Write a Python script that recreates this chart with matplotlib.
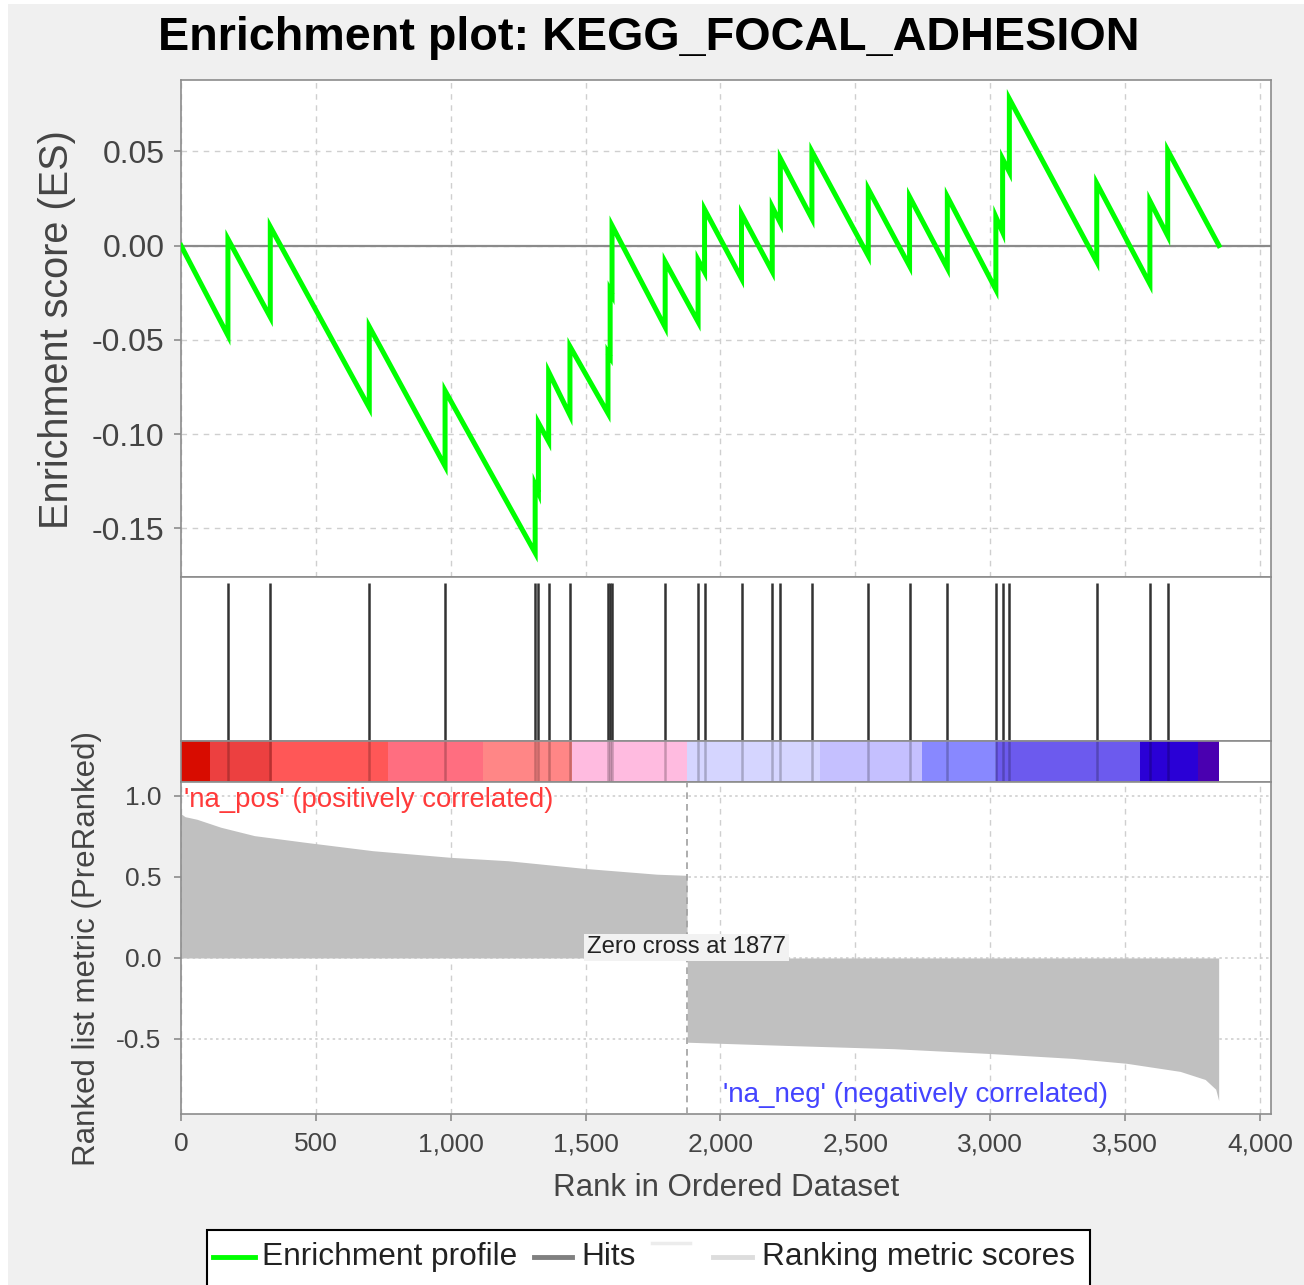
import matplotlib
matplotlib.use('Agg')
import matplotlib.pyplot as plt
from matplotlib.ticker import FuncFormatter
from matplotlib.patches import Rectangle
from matplotlib.lines import Line2D

plt.rcParams['font.family'] = ['Liberation Sans', 'DejaVu Sans']

# ---------------- data ----------------
TITLE = "Enrichment plot: KEGG_FOCAL_ADHESION"
N_GENES = 3848
ZERO_CROSS = 1877

hit_ranks = [174, 331, 698, 979, 1313, 1325, 1363, 1442, 1583, 1591, 1598,
             1795, 1917, 1941, 2078, 2192, 2222, 2339, 2548, 2701, 2841,
             3021, 3046, 3071, 3395, 3592, 3658]
es_before = [-0.0477, -0.038, -0.086, -0.117, -0.163, -0.131, -0.104, -0.090,
             -0.089, -0.059, -0.026, -0.0433, -0.0405, -0.0140, -0.0175,
             -0.0138, 0.012, 0.0143, -0.0055, -0.0109, -0.012, -0.0234,
             0.0071, 0.039, -0.0086, -0.0204, 0.0052]
es_after = [0.0035, 0.010, -0.043, -0.077, -0.127, -0.094, -0.067, -0.0535,
            -0.057, -0.024, 0.0106, -0.0086, -0.0076, 0.0192, 0.0168,
            0.0205, 0.0462, 0.0499, 0.030, 0.0259, 0.026, 0.0152,
            0.046, 0.0778, 0.033, 0.0237, 0.0505]

metric_pos_rank = [0, 15, 59, 147, 272, 460, 711, 1000, 1213, 1494, 1764, 1876]
metric_pos_val = [0.89, 0.872, 0.856, 0.807, 0.755, 0.714, 0.662, 0.621, 0.60,
                  0.553, 0.517, 0.51]
metric_neg_rank = [1877, 2247, 2644, 3002, 3307, 3505, 3704, 3797, 3836, 3847]
metric_neg_val = [-0.52, -0.54, -0.56, -0.59, -0.62, -0.65, -0.70, -0.75,
                  -0.81, -0.88]

bar_edges = [0, 108, 336, 766, 1121, 1449, 1875, 2369, 2746, 3021, 3556,
             3772, 3848]
bar_colors = ['#D80C00', '#EC4040', '#FF5757', '#FF6E80', '#FF8686',
              '#FFBBE0', '#D5D5FF', '#C5C0FF', '#8888FF', '#6C5AEE',
              '#2A00D6', '#4A00B0']

es_ticks = [0.05, 0.00, -0.05, -0.10, -0.15]
metric_ticks = [1.0, 0.5, 0.0, -0.5]
x_ticks = [0, 500, 1000, 1500, 2000, 2500, 3000, 3500, 4000]

# ---------------- layout ----------------
W, H = 1304, 1285
fig = plt.figure(figsize=(W / 100, H / 100), dpi=100, facecolor='#F0F0F0')


def rect(l, t, r, b):
    return [l / W, 1 - b / H, (r - l) / W, (b - t) / H]


XMAX = 4041
SPINE = '#8C8C8C'
GRID = '#CFCFCF'
TXT = '#444444'

# white strip at the left / top edge of the screenshot
fig.patches.append(Rectangle((0, 0), 8 / W, 1, transform=fig.transFigure,
                             facecolor='white', edgecolor='none', zorder=-5))
fig.patches.append(Rectangle((0, 1 - 4 / H), 1, 4 / H, transform=fig.transFigure,
                             facecolor='white', edgecolor='none', zorder=-5))

ax_es = fig.add_axes(rect(181, 80, 1271, 577))
ax_hits = fig.add_axes(rect(181, 577, 1271, 741))
ax_bar = fig.add_axes(rect(181, 741, 1271, 782))
ax_m = fig.add_axes(rect(181, 782, 1271, 1114))

for ax in (ax_es, ax_hits, ax_bar, ax_m):
    ax.set_xlim(0, XMAX)
    ax.set_facecolor('white')
    for s in ax.spines.values():
        s.set_color(SPINE)
        s.set_linewidth(1.2)

# ---- ES panel ----
xs, ys = [0], [0.0]
for r, b, a in zip(hit_ranks, es_before, es_after):
    xs += [r, r]
    ys += [b, a]
xs.append(N_GENES)
ys.append(0.0)

ax_es.set_ylim(-0.1758, 0.0878)
ax_es.set_yticks(es_ticks)
ax_es.yaxis.set_major_formatter(FuncFormatter(lambda v, p: f"{v:.2f}"))
ax_es.set_xticks(x_ticks)
ax_es.tick_params(axis='x', length=0, labelbottom=False)
ax_es.tick_params(axis='y', labelsize=23, colors=SPINE, labelcolor=TXT,
                  length=5, width=1.2, pad=7)
ax_es.grid(True, color=GRID, ls=(0, (4, 4)), lw=1)
ax_es.axhline(0, color='#8A8A8A', lw=1.6, zorder=2)
ax_es.plot(xs, ys, color='#00FF00', lw=3.6, zorder=3, solid_joinstyle='miter')
ax_es.set_axisbelow(True)

# ---- hits panel ----
ax_hits.set_ylim(0, 1)
ax_hits.vlines(hit_ranks, 0, 0.963, color='#333333', lw=1.8)
ax_hits.set_xticks([])
ax_hits.set_yticks([])

# ---- colour bar ----
ax_bar.set_ylim(0, 1)
for i, c in enumerate(bar_colors):
    ax_bar.barh(0.5, bar_edges[i + 1] - bar_edges[i], left=bar_edges[i],
                height=1.0, color=c, edgecolor='none')
ax_bar.vlines(hit_ranks, 0, 1, color='black', alpha=0.22, lw=1.8)
ax_bar.set_xticks([])
ax_bar.set_yticks([])

# ---- ranked metric panel ----
ax_m.set_ylim(-0.963, 1.086)
ax_m.fill_between(metric_pos_rank, metric_pos_val, 0, color='#C0C0C0', lw=0,
                  zorder=2)
ax_m.fill_between(metric_neg_rank, metric_neg_val, 0, color='#C0C0C0', lw=0,
                  zorder=2)
ax_m.axvline(ZERO_CROSS, color='#A0A0A0', ls=(0, (4, 3)), lw=1.2, zorder=3)
ax_m.set_yticks(metric_ticks)
ax_m.yaxis.set_major_formatter(FuncFormatter(lambda v, p: f"{v:.1f}"))
ax_m.set_xticks(x_ticks)
ax_m.xaxis.set_major_formatter(FuncFormatter(lambda v, p: f"{int(v):,}"))
ax_m.tick_params(axis='both', labelsize=19, colors=SPINE, labelcolor=TXT,
                 length=5, width=1.2)
ax_m.tick_params(axis='y', pad=9)
ax_m.tick_params(axis='x', pad=8)
ax_m.xaxis.grid(True, color=GRID, ls=(0, (4, 4)), lw=1)
ax_m.yaxis.grid(True, color=GRID, ls=(0, (1.5, 2)), lw=1.2)
ax_m.set_axisbelow(True)

ax_m.text(11, 0.975, "'na_pos' (positively correlated)", color='#FF3A3A',
          fontsize=19.8, ha='left', va='center', zorder=4)
ax_m.text(2009, -0.845, "'na_neg' (negatively correlated)", color='#4444FF',
          fontsize=20, ha='left', va='center', zorder=4)
ax_m.text(1873, 0.065, "Zero cross at 1877", color='#222222', fontsize=17.2,
          ha='center', va='center', zorder=5,
          bbox=dict(facecolor='#F2F2F2', edgecolor='none', pad=2))

# ---- texts ----
fig.text(649 / W, 1 - 38 / H, TITLE, fontsize=33.7, fontweight='bold',
         ha='center', va='center', color='black')
fig.text(57 / W, 1 - 330 / H, "Enrichment score (ES)", fontsize=28.5,
         rotation=90, ha='center', va='center', color=TXT)
fig.text(87 / W, 1 - 948 / H, "Ranked list metric (PreRanked)", fontsize=22.5,
         rotation=90, ha='center', va='center', color=TXT)
fig.text(726 / W, 1 - 1188 / H, "Rank in Ordered Dataset", fontsize=22.5,
         ha='center', va='center', color=TXT)

# ---- legend (drawn in a pixel-space overlay) ----
ax_leg = fig.add_axes([0, 0, 1, 1], zorder=10)
ax_leg.set_xlim(0, W)
ax_leg.set_ylim(H, 0)
ax_leg.axis('off')
ax_leg.add_patch(Rectangle((207, 1230), 883, 80, facecolor='white',
                           edgecolor='black', lw=1.5))
ax_leg.add_line(Line2D([213, 255], [1257, 1257], color='#00FF00', lw=3.5))
ax_leg.text(262, 1257, "Enrichment profile", fontsize=22.8, va='center',
            ha='left', color='#222222')
ax_leg.add_line(Line2D([534, 572], [1257, 1257], color='#808080', lw=3.5))
ax_leg.text(581, 1257, "Hits", fontsize=22.8, va='center', ha='left',
            color='#222222')
ax_leg.add_line(Line2D([652, 690], [1243, 1243], color='#ECECEC', lw=2.5))
ax_leg.add_line(Line2D([713, 752], [1257, 1257], color='#DDDDDD', lw=3.5))
ax_leg.text(762, 1257, "Ranking metric scores", fontsize=22.8, va='center',
            ha='left', color='#222222')

fig.savefig('out.png', dpi=100, facecolor=fig.get_facecolor())
